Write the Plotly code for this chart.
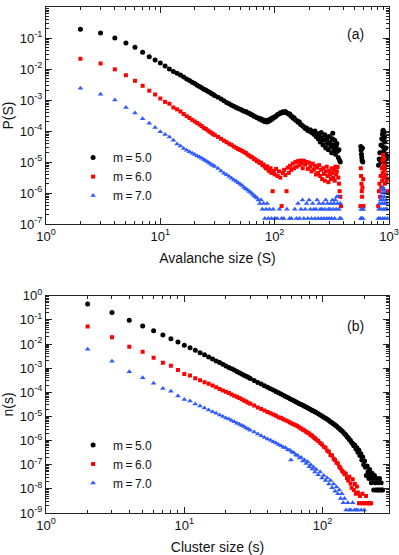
import math
import plotly.graph_objects as go

# ---- panel (a): avalanche size distribution P(S) ----
top_s5 = [2, 3, 4, 5, 6, 7, 8, 9, 10, 11,
          12, 13, 14, 15, 16, 17, 18, 19, 20, 21,
          22, 23, 24, 25, 26, 27, 28, 29, 30, 32,
          34, 36, 38, 40, 42, 44, 46, 48, 50, 52,
          54, 56, 58, 60, 62, 64, 66, 68, 70, 72,
          74, 76, 78, 80, 82, 84, 86, 88, 90, 92,
          94, 96, 98, 100, 103, 106, 109, 112, 115, 118,
          121, 124, 127, 130, 133, 136, 139, 142, 145, 148,
          152, 156, 160, 164, 168, 172, 176, 180, 185, 190,
          195, 200, 205, 210, 215, 220, 225, 230, 235, 240,
          245, 250, 255, 260, 265, 270, 275, 280, 285, 290,
          295, 300, 305, 310, 315, 320, 322, 325, 330, 335,
          340, 345, 350, 355, 360, 365, 370, 375, 566, 570,
          574, 578, 582, 586, 590, 810, 820, 830, 840, 850,
          860, 865, 870, 875, 880, 885, 890, 895, 900, 905,
          910, 915, 920, 925, 930, 940, 950, 960]
top_p5 = [1.91e-1, 1.45e-1, 1.0e-1, 6.92e-2, 5.01e-2, 3.47e-2, 2.51e-2, 1.95e-2, 1.55e-2, 1.26e-2,
          1.0e-2, 8.32e-3, 7.24e-3, 6.46e-3, 5.5e-3, 4.79e-3, 4.27e-3, 3.72e-3, 3.39e-3, 3.02e-3,
          2.75e-3, 2.51e-3, 2.24e-3, 2.09e-3, 1.91e-3, 1.78e-3, 1.62e-3, 1.51e-3, 1.38e-3, 1.23e-3,
          1.07e-3, 9.55e-4, 8.32e-4, 7.59e-4, 6.76e-4, 6.31e-4, 5.75e-4, 5.37e-4, 5.01e-4, 4.68e-4,
          4.37e-4, 4.27e-4, 3.89e-4, 3.72e-4, 3.39e-4, 3.31e-4, 3.02e-4, 2.88e-4, 2.69e-4, 2.63e-4,
          2.4e-4, 2.51e-4, 2.19e-4, 2.29e-4, 2.0e-4, 2.19e-4, 1.95e-4, 2.29e-4, 2.09e-4, 2.45e-4,
          2.34e-4, 2.69e-4, 2.63e-4, 2.88e-4, 3.02e-4, 3.39e-4, 3.55e-4, 3.89e-4, 3.8e-4, 4.17e-4,
          3.98e-4, 4.27e-4, 3.89e-4, 3.72e-4, 3.47e-4, 3.55e-4, 3.02e-4, 2.95e-4, 2.57e-4, 2.69e-4,
          2.29e-4, 2.19e-4, 1.91e-4, 2.0e-4, 1.66e-4, 1.58e-4, 1.45e-4, 1.38e-4, 1.2e-4, 1.26e-4,
          1.05e-4, 1.0e-4, 1.1e-4, 8.91e-5, 9.55e-5, 7.94e-5, 1.0e-4, 6.61e-5, 8.32e-5, 5.62e-5,
          7.08e-5, 4.47e-5, 8.91e-5, 6.03e-5, 3.55e-5, 5.01e-5, 7.59e-5, 2.82e-5, 5.62e-5, 3.98e-5,
          2.51e-5, 6.61e-5, 4.47e-5, 3.16e-5, 2.0e-5, 5.62e-5, 8.51e-5, 3.55e-5, 2.51e-5, 5.01e-5,
          1.78e-5, 3.16e-5, 3.98e-5, 2.24e-5, 1.41e-5, 2.51e-5, 1.12e-5, 1.0e-5, 3.16e-5, 2.4e-5,
          1.78e-5, 1.41e-5, 1.12e-5, 2.82e-5, 1.0e-5, 7.94e-6, 1.26e-5, 2.0e-5, 1.12e-5, 3.55e-5,
          2.0e-5, 5.62e-5, 1.0e-5, 7.94e-5, 3.16e-5, 1.0e-4, 1.07e-4, 5.01e-5, 1.58e-5, 8.91e-5,
          2.51e-5, 6.31e-5, 8.91e-6, 4.47e-5, 1.78e-5, 2.82e-5, 1.26e-5, 1.58e-5]

top_s6 = [2, 3, 4, 5, 6, 7, 8, 9, 10, 11,
          12, 13, 14, 15, 16, 17, 18, 19, 20, 21,
          22, 23, 24, 25, 26, 27, 28, 29, 30, 32,
          34, 36, 38, 40, 42, 44, 46, 48, 50, 52,
          54, 56, 58, 60, 62, 64, 66, 68, 70, 72,
          74, 76, 78, 80, 82, 84, 86, 88, 90, 92,
          94, 96, 98, 100, 103, 106, 109, 112, 115, 118,
          121, 124, 127, 130, 133, 136, 140, 144, 148, 152,
          156, 160, 164, 168, 172, 176, 180, 185, 190, 195,
          200, 205, 210, 215, 220, 225, 230, 235, 240, 245,
          250, 255, 260, 265, 270, 275, 280, 285, 290, 295,
          300, 305, 310, 315, 320, 325, 330, 335, 340, 345,
          350, 355, 360, 365, 370, 375, 380, 562, 566, 570,
          574, 578, 582, 586, 590, 594, 598, 805, 815, 825,
          835, 845, 855, 865, 870, 875, 880, 885, 890, 895,
          900, 905, 910, 915, 920, 925, 930, 940, 950, 960,
          970]
top_p6 = [2.14e-2, 1.51e-2, 9.77e-3, 6.31e-3, 4.17e-3, 2.88e-3, 2.0e-3, 1.51e-3, 1.12e-3, 8.71e-4,
          7.59e-4, 5.75e-4, 5.01e-4, 4.27e-4, 3.55e-4, 3.02e-4, 2.63e-4, 2.29e-4, 2.04e-4, 1.82e-4,
          1.62e-4, 1.45e-4, 1.26e-4, 1.17e-4, 1.05e-4, 9.55e-5, 8.71e-5, 7.94e-5, 7.41e-5, 6.46e-5,
          5.62e-5, 4.9e-5, 4.37e-5, 3.89e-5, 3.55e-5, 3.16e-5, 2.88e-5, 2.63e-5, 2.45e-5, 2.29e-5,
          2.09e-5, 1.95e-5, 1.74e-5, 1.62e-5, 1.48e-5, 1.41e-5, 1.26e-5, 1.2e-5, 1.07e-5, 1.05e-5,
          9.33e-6, 9.55e-6, 7.94e-6, 8.32e-6, 7.08e-6, 6.31e-6, 7.24e-6, 5.62e-6, 5.01e-6, 6.31e-6,
          4.47e-6, 1.15e-6, 5.25e-6, 3.98e-6, 6.03e-6, 3.55e-6, 5.01e-6, 3.16e-6, 3.8e-7, 4.47e-6,
          5.62e-6, 3.8e-6, 1.15e-6, 6.61e-6, 4.47e-6, 7.59e-6, 5.62e-6, 8.91e-6, 6.31e-6, 1.0e-5,
          7.08e-6, 1.07e-5, 7.94e-6, 1.12e-5, 8.91e-6, 6.31e-6, 1.1e-5, 8.32e-6, 1.0e-5, 6.03e-6,
          9.55e-6, 7.08e-6, 5.01e-6, 8.91e-6, 5.62e-6, 7.59e-6, 3.98e-6, 6.61e-6, 4.47e-6, 7.94e-6,
          3.55e-6, 5.62e-6, 2.82e-6, 6.31e-6, 4.17e-6, 2.51e-6, 5.01e-6, 7.08e-6, 3.55e-6, 2.24e-6,
          5.25e-6, 3.98e-6, 2.82e-6, 6.31e-6, 4.47e-6, 3.16e-6, 5.62e-6, 2.51e-6, 7.08e-6, 3.98e-6,
          5.01e-6, 6.92e-6, 3.16e-6, 2.0e-6, 1.15e-6, 7.59e-7, 3.8e-7, 3.8e-7, 6.31e-6, 3.55e-6,
          2.0e-6, 1.15e-6, 7.59e-7, 1.51e-6, 3.8e-7, 2.82e-6, 3.8e-7, 3.8e-7, 1.15e-6, 2.0e-6,
          7.59e-7, 3.55e-6, 1.51e-6, 6.31e-6, 2.51e-6, 1.12e-5, 4.47e-6, 1.58e-5, 1.7e-5, 7.94e-6,
          3.16e-6, 1.26e-5, 5.62e-6, 8.91e-6, 2.0e-6, 6.31e-6, 3.55e-6, 3.98e-6, 2.24e-6, 2.82e-6,
          1.15e-6]

top_s7 = [2, 3, 4, 5, 6, 7, 8, 9, 10, 11,
          12, 13, 14, 15, 16, 17, 18, 19, 20, 21,
          22, 23, 24, 25, 26, 27, 28, 29, 30, 32,
          34, 36, 38, 40, 42, 44, 46, 48, 50, 52,
          54, 56, 58, 60, 62, 64, 66, 68, 70, 72,
          74, 76, 78, 80, 82, 84, 86, 88, 90, 94,
          97, 100, 105, 110, 115, 120, 128, 135, 140, 150,
          155, 160, 165, 170, 175, 180, 185, 190, 195, 200,
          205, 210, 215, 220, 225, 230, 235, 240, 245, 250,
          255, 260, 265, 270, 275, 280, 285, 290, 295, 300,
          305, 310, 315, 320, 325, 330, 335, 340, 345, 350,
          355, 360, 365, 370, 375, 380, 566, 572, 578, 584,
          590, 596, 805, 815, 825, 835, 845, 855, 865, 870,
          875, 880, 885, 890, 895, 900, 905, 910, 915, 920,
          925, 930, 940, 950, 960, 970]
top_p7 = [2.4e-3, 1.55e-3, 1.0e-3, 5.75e-4, 3.8e-4, 2.51e-4, 1.78e-4, 1.29e-4, 9.55e-5, 7.76e-5,
          6.46e-5, 5.01e-5, 3.8e-5, 3.31e-5, 2.75e-5, 2.4e-5, 2.14e-5, 1.91e-5, 1.74e-5, 1.58e-5,
          1.45e-5, 1.32e-5, 1.2e-5, 1.1e-5, 1.0e-5, 9.12e-6, 8.32e-6, 7.76e-6, 7.24e-6, 6.17e-6,
          5.13e-6, 4.37e-6, 3.89e-6, 3.39e-6, 3.02e-6, 2.63e-6, 2.4e-6, 2.14e-6, 1.91e-6, 1.74e-6,
          1.51e-6, 1.38e-6, 1.26e-6, 1.12e-6, 1.05e-6, 9.12e-7, 8.32e-7, 7.59e-7, 6.92e-7, 6.03e-7,
          4.57e-7, 6.03e-7, 3.02e-7, 4.57e-7, 1.51e-7, 3.02e-7, 4.57e-7, 1.51e-7, 3.02e-7, 1.51e-7,
          3.02e-7, 1.51e-7, 1.51e-7, 3.02e-7, 1.51e-7, 1.51e-7, 3.02e-7, 1.51e-7, 1.51e-7, 3.02e-7,
          1.51e-7, 4.57e-7, 1.51e-7, 3.02e-7, 6.03e-7, 1.51e-7, 3.02e-7, 4.57e-7, 1.51e-7, 6.03e-7,
          3.02e-7, 1.51e-7, 4.57e-7, 3.02e-7, 1.51e-7, 3.02e-7, 6.03e-7, 1.51e-7, 4.57e-7, 3.02e-7,
          1.51e-7, 3.02e-7, 4.57e-7, 1.51e-7, 3.02e-7, 6.03e-7, 1.51e-7, 4.57e-7, 3.02e-7, 1.51e-7,
          3.02e-7, 4.57e-7, 1.51e-7, 6.03e-7, 3.02e-7, 4.57e-7, 1.51e-7, 6.03e-7, 3.02e-7, 7.59e-7,
          4.57e-7, 7.59e-7, 3.02e-7, 1.51e-7, 4.57e-7, 1.51e-7, 1.51e-7, 3.02e-7, 1.51e-7, 3.02e-7,
          1.51e-7, 3.02e-7, 1.51e-7, 3.02e-7, 4.57e-7, 1.51e-7, 6.03e-7, 3.02e-7, 7.59e-7, 4.57e-7,
          1.0e-6, 1.51e-7, 1.26e-6, 1.51e-6, 6.03e-7, 3.02e-7, 1.26e-6, 7.59e-7, 4.57e-7, 1.51e-7,
          1.0e-6, 3.02e-7, 6.03e-7, 4.57e-7, 3.02e-7, 1.51e-7]

# ---- panel (b): cluster size distribution n(s) ----
bot_s5 = [2, 3, 4, 5, 6, 7, 8, 9, 10, 11,
          12, 13, 14, 15, 16, 17, 18, 19, 20, 21,
          22, 23, 24, 25, 26, 27, 28, 29, 30, 32,
          34, 36, 38, 40, 42, 44, 46, 48, 50, 52,
          54, 56, 58, 60, 62, 64, 66, 68, 70, 72,
          74, 76, 78, 80, 82, 84, 86, 88, 90, 93,
          96, 99, 102, 105, 108, 111, 114, 117, 120, 123,
          126, 129, 132, 135, 138, 141, 144, 147, 150, 153,
          156, 159, 162, 165, 168, 171, 174, 177, 180, 183,
          186, 189, 192, 195, 198, 201, 204, 207, 210, 213,
          216, 219, 222, 225, 228, 231, 234, 237, 240, 243,
          246, 249, 252, 255, 258, 261, 265, 268, 272]
bot_p5 = [4.57e-1, 2.0e-1, 9.55e-2, 5.62e-2, 3.55e-2, 2.34e-2, 1.66e-2, 1.2e-2, 8.91e-3, 6.92e-3,
          5.5e-3, 4.37e-3, 3.55e-3, 2.88e-3, 2.4e-3, 2.0e-3, 1.7e-3, 1.45e-3, 1.23e-3, 1.07e-3,
          9.33e-4, 8.32e-4, 7.24e-4, 6.46e-4, 5.75e-4, 5.13e-4, 4.57e-4, 4.17e-4, 3.72e-4, 3.09e-4,
          2.57e-4, 2.19e-4, 1.86e-4, 1.62e-4, 1.41e-4, 1.23e-4, 1.07e-4, 9.55e-5, 8.51e-5, 7.59e-5,
          6.76e-5, 6.03e-5, 5.37e-5, 4.9e-5, 4.47e-5, 4.07e-5, 3.72e-5, 3.39e-5, 3.09e-5, 2.88e-5,
          2.63e-5, 2.45e-5, 2.24e-5, 2.09e-5, 1.95e-5, 1.78e-5, 1.66e-5, 1.55e-5, 1.45e-5, 1.29e-5,
          1.15e-5, 1.05e-5, 9.33e-6, 8.32e-6, 7.59e-6, 6.76e-6, 6.03e-6, 5.5e-6, 4.9e-6, 4.37e-6,
          3.98e-6, 3.47e-6, 3.16e-6, 2.75e-6, 2.51e-6, 2.19e-6, 1.91e-6, 1.74e-6, 1.45e-6, 1.32e-6,
          1.1e-6, 1.0e-6, 8.32e-7, 7.59e-7, 6.03e-7, 6.61e-7, 4.47e-7, 5.01e-7, 3.31e-7, 3.98e-7,
          2.4e-7, 2.82e-7, 1.58e-7, 2.09e-7, 1.0e-7, 1.41e-7, 7.94e-8, 3.55e-8, 8.91e-8, 5.01e-8,
          2.69e-8, 6.31e-8, 3.55e-8, 1.78e-8, 4.47e-8, 2.69e-8, 8.91e-9, 3.55e-8, 1.78e-8, 8.91e-9,
          2.69e-8, 8.91e-9, 1.78e-8, 8.91e-9, 2.69e-8, 8.91e-9, 1.78e-8, 8.91e-9, 8.91e-9]

bot_s6 = [2, 3, 4, 5, 6, 7, 8, 9, 10, 11,
          12, 13, 14, 15, 16, 17, 18, 19, 20, 21,
          22, 23, 24, 25, 26, 27, 28, 29, 30, 32,
          34, 36, 38, 40, 42, 44, 46, 48, 50, 52,
          54, 56, 58, 60, 62, 64, 66, 68, 70, 72,
          74, 76, 78, 80, 82, 84, 86, 88, 90, 93,
          96, 99, 102, 105, 108, 111, 114, 117, 120, 123,
          126, 129, 132, 135, 138, 141, 144, 147, 150, 153,
          156, 159, 162, 165, 168, 171, 174, 177, 180, 183,
          186, 190, 194, 198, 202, 206, 210, 215, 220, 224]
bot_p6 = [5.37e-2, 1.91e-2, 7.76e-3, 4.79e-3, 2.69e-3, 1.66e-3, 1.26e-3, 8.32e-4, 5.75e-4, 5.01e-4,
          3.8e-4, 3.16e-4, 2.63e-4, 2.24e-4, 1.91e-4, 1.62e-4, 1.38e-4, 1.2e-4, 1.05e-4, 9.33e-5,
          8.13e-5, 7.24e-5, 6.46e-5, 5.75e-5, 5.13e-5, 4.57e-5, 4.17e-5, 3.72e-5, 3.39e-5, 2.82e-5,
          2.34e-5, 2.04e-5, 1.74e-5, 1.51e-5, 1.35e-5, 1.2e-5, 1.07e-5, 9.33e-6, 8.51e-6, 7.59e-6,
          6.92e-6, 6.31e-6, 5.62e-6, 5.13e-6, 4.68e-6, 4.27e-6, 3.89e-6, 3.47e-6, 3.16e-6, 2.82e-6,
          2.63e-6, 2.34e-6, 2.09e-6, 1.95e-6, 1.7e-6, 1.58e-6, 1.38e-6, 1.26e-6, 1.1e-6, 9.55e-7,
          7.94e-7, 6.92e-7, 5.5e-7, 5.01e-7, 3.8e-7, 3.47e-7, 2.51e-7, 2.4e-7, 1.78e-7, 1.58e-7,
          1.2e-7, 1.12e-7, 8.32e-8, 7.08e-8, 5.62e-8, 5.01e-8, 3.98e-8, 4.37e-8, 2.82e-8, 2.24e-8,
          3.16e-8, 1.66e-8, 1.12e-8, 2.51e-8, 8.91e-9, 1.58e-8, 6.31e-9, 1.26e-8, 7.08e-9, 2.51e-9,
          5.01e-9, 2.51e-9, 6.31e-9, 2.51e-9, 2.51e-9, 5.01e-9, 2.51e-9, 2.51e-9, 2.51e-9, 2.51e-9]

bot_s7 = [2, 3, 4, 5, 6, 7, 8, 9, 10, 11,
          12, 13, 14, 15, 16, 17, 18, 19, 20, 21,
          22, 23, 24, 25, 26, 27, 28, 29, 30, 32,
          34, 36, 38, 40, 42, 44, 46, 48, 50, 52,
          54, 56, 58, 59, 60, 62, 64, 66, 68, 70,
          72, 74, 76, 78, 80, 82, 84, 86, 88, 90,
          93, 96, 99, 102, 105, 108, 111, 114, 117, 120,
          123, 126, 129, 132, 135, 138, 141, 144, 148, 152,
          156, 160, 165, 170, 175, 180, 190, 200]
bot_p7 = [6.03e-3, 1.91e-3, 7.08e-4, 3.98e-4, 2.34e-4, 1.45e-4, 1.1e-4, 7.08e-5, 5.01e-5, 4.37e-5,
          3.24e-5, 2.69e-5, 2.24e-5, 1.86e-5, 1.58e-5, 1.35e-5, 1.15e-5, 1.0e-5, 8.71e-6, 7.76e-6,
          6.76e-6, 6.03e-6, 5.25e-6, 4.79e-6, 4.17e-6, 3.8e-6, 3.31e-6, 3.02e-6, 2.69e-6, 2.24e-6,
          1.86e-6, 1.58e-6, 1.35e-6, 1.15e-6, 1.02e-6, 8.91e-7, 7.94e-7, 6.92e-7, 6.17e-7, 5.25e-7,
          5.01e-7, 4.17e-7, 3.98e-7, 1.58e-7, 3.39e-7, 3.16e-7, 2.51e-7, 2.4e-7, 1.91e-7, 2.0e-7,
          1.41e-7, 1.58e-7, 1.12e-7, 1.32e-7, 8.32e-8, 1.0e-7, 6.61e-8, 7.94e-8, 5.01e-8, 6.31e-8,
          3.8e-8, 5.01e-8, 2.82e-8, 3.55e-8, 2.24e-8, 2.82e-8, 1.58e-8, 2.24e-8, 1.12e-8, 1.58e-8,
          7.94e-9, 1.2e-8, 6.31e-9, 8.91e-9, 3.98e-9, 6.31e-9, 2.63e-9, 3.98e-9, 1.32e-9, 2.63e-9,
          1.32e-9, 1.32e-9, 2.63e-9, 1.32e-9, 1.32e-9, 1.32e-9, 1.32e-9, 1.32e-9]

labels = ["m\u2009=\u20095.0", "m\u2009=\u20096.0", "m\u2009=\u20097.0"]
colors = ["#000000", "#ff0000", "#2f5bff"]
symbols = ["circle", "square", "triangle-up"]
sizes = [5, 4, 5]

x_ticks_top = [1, 10, 100, 1000]
x_ticks_bot = [1, 10, 100]
y_ticks_top = [1, 1e-1, 1e-2, 1e-3, 1e-4, 1e-5, 1e-6, 1e-7]
y_ticks_bot = [1, 1e-1, 1e-2, 1e-3, 1e-4, 1e-5, 1e-6, 1e-7, 1e-8, 1e-9]


def pow_text(vals):
    return ["10<sup>%d</sup>" % round(math.log10(v)) for v in vals]


FONT = "Liberation Sans, Arial, sans-serif"

fig = go.Figure()

top_sets = [(top_s5, top_p5), (top_s6, top_p6), (top_s7, top_p7)]
bot_sets = [(bot_s5, bot_p5), (bot_s6, bot_p6), (bot_s7, bot_p7)]

for i, (xs, ys) in enumerate(top_sets):
    fig.add_trace(go.Scatter(
        x=xs, y=ys, mode="markers", name=labels[i],
        marker=dict(symbol=symbols[i], size=sizes[i], color=colors[i], line=dict(width=0)),
        xaxis="x", yaxis="y", legend="legend",
    ))

for i, (xs, ys) in enumerate(bot_sets):
    fig.add_trace(go.Scatter(
        x=xs, y=ys, mode="markers", name=labels[i],
        marker=dict(symbol=symbols[i], size=sizes[i], color=colors[i], line=dict(width=0)),
        xaxis="x2", yaxis="y2", legend="legend2",
    ))

axis_style = dict(
    type="log", showline=True, linecolor="#222222", linewidth=1.3, mirror="ticks",
    ticks="inside", ticklen=6, tickwidth=1, tickcolor="#222222",
    showgrid=False, zeroline=False, automargin=False,
    tickfont=dict(family=FONT, size=13, color="#111111"),
    minor=dict(ticks="inside", ticklen=3, tickcolor="#222222", dtick="D1", showgrid=False),
)

fig.update_layout(
    width=399, height=555,
    margin=dict(l=46, r=10, t=7, b=42),
    paper_bgcolor="white", plot_bgcolor="white",
    font=dict(family=FONT, size=12, color="#111111"),
    xaxis=dict(axis_style, domain=[0, 1], anchor="y", range=[0, 3],
               tickmode="array", tickvals=x_ticks_top, ticktext=pow_text(x_ticks_top),
               title=dict(text="Avalanche size (S)", font=dict(size=14), standoff=10)),
    yaxis=dict(axis_style, domain=[0.571, 1], anchor="x", range=[-7, 0],
               tickmode="array", tickvals=y_ticks_top, ticktext=pow_text(y_ticks_top),
               title=dict(text="P(S)", font=dict(size=14), standoff=5)),
    xaxis2=dict(axis_style, domain=[0, 1], anchor="y2", range=[0, 2.48],
                tickmode="array", tickvals=x_ticks_bot, ticktext=pow_text(x_ticks_bot),
                title=dict(text="Cluster size (s)", font=dict(size=14), standoff=10)),
    yaxis2=dict(axis_style, domain=[0, 0.4294], anchor="x2", range=[-9, 0],
                tickmode="array", tickvals=y_ticks_bot, ticktext=pow_text(y_ticks_bot),
                title=dict(text="n(s)", font=dict(size=14), standoff=5)),
    legend=dict(x=0.079, y=0.731, xanchor="left", yanchor="top",
                bgcolor="rgba(0,0,0,0)", font=dict(size=12), tracegroupgap=0),
    legend2=dict(x=0.079, y=0.163, xanchor="left", yanchor="top",
                 bgcolor="rgba(0,0,0,0)", font=dict(size=12), tracegroupgap=0),
    annotations=[
        dict(text="(a)", x=0.903, y=0.9466, xref="paper", yref="paper",
             xanchor="center", yanchor="middle", showarrow=False, font=dict(size=14)),
        dict(text="(b)", x=0.903, y=0.370, xref="paper", yref="paper",
             xanchor="center", yanchor="middle", showarrow=False, font=dict(size=14)),
    ],
)

# the page body has a default 8px margin; drop it so the figure fills the window
fig.write_html("out.html", config={"displayModeBar": False},
               post_script="document.body.style.margin='0px';")
